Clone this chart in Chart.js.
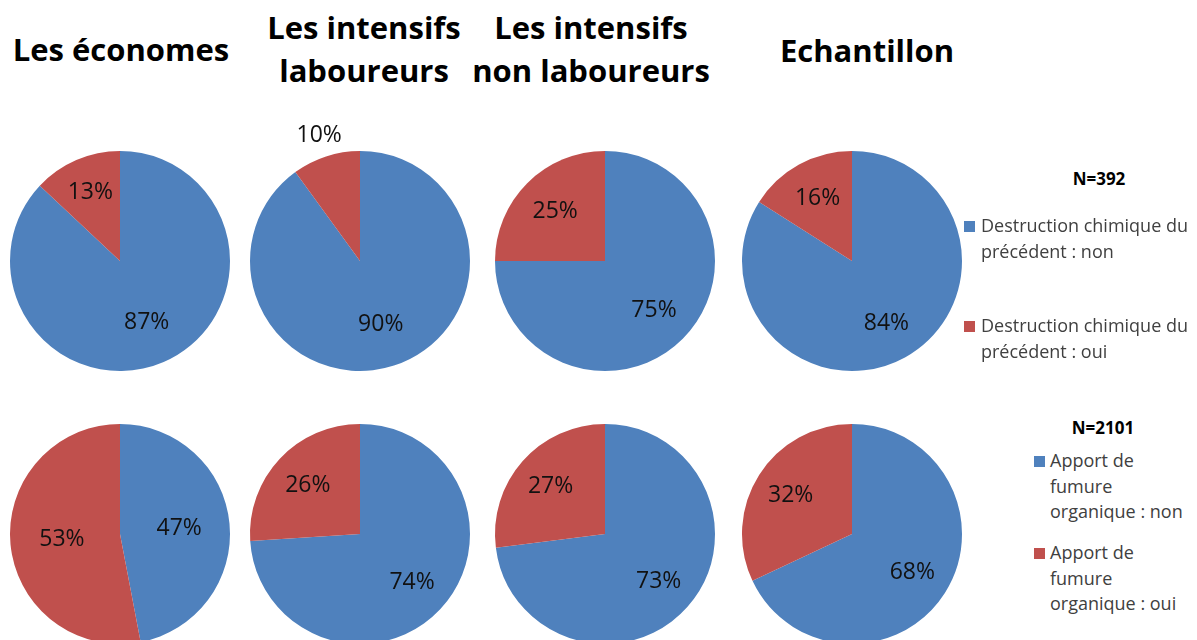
<!DOCTYPE html>
<html>
<head>
<meta charset="utf-8">
<script src="https://cdn.jsdelivr.net/npm/chart.js@4.4.1/dist/chart.umd.min.js"></script>
<style>
  html, body { margin: 0; padding: 0; width: 1197px; height: 640px; overflow: hidden; background: #fff; }
  .title { position: absolute; font-family: "Open Sans", sans-serif; font-weight: bold; font-size: 31px;
           line-height: 43px; color: #000; text-align: center; width: 300px; white-space: pre-line; }
  canvas { position: absolute; }
  .ntitle { position: absolute; font-family: "Open Sans", sans-serif; font-weight: bold; font-size: 17px;
            color: #000; width: 120px; text-align: center; line-height: 20px; }
  .leg { position: absolute; font-family: "Open Sans", sans-serif; font-size: 18px; line-height: 25.5px;
         color: #404040; white-space: pre-line; }
  .sq { position: absolute; width: 11px; height: 11px; }
</style>
</head>
<body>
<script>
// ---- Data ----
const groups = ["Les économes", "Les intensifs\nlaboureurs", "Les intensifs\nnon laboureurs", "Echantillon"];
const destructionLabels = ["Destruction chimique du\nprécédent : non", "Destruction chimique du\nprécédent : oui"];
const destructionNon = [87, 90, 75, 84];
const destructionOui = [13, 10, 25, 16];
const fumureLabels = ["Apport de\nfumure\norganique : non", "Apport de\nfumure\norganique : oui"];
const fumureNon = [47, 74, 73, 68];
const fumureOui = [53, 26, 27, 32];
const nDestruction = "N=392";
const nFumure = "N=2101";

// ---- Styles / layout ----
const colors = ["#4F81BD", "#C0504D"];
const pieCX = [120, 360, 605, 852];
const rowCY = [261, 534];
const R = 110;
const titleCX = [121, 364, 591, 867];
const titleTops = [28, 6, 6, 29];
// label distance from centre (fraction of radius) per pie / slice
const labelFrac = [
  [[0.61, 0.68], [0.61, 1.2], [0.63, 0.64], [0.65, 0.65]],
  [[0.54, 0.53], [0.65, 0.65], [0.65, 0.66], [0.65, 0.66]]
];

const pctLabels = {
  id: 'pctLabels',
  afterDatasetsDraw(chart, args, opts) {
    const ctx = chart.ctx;
    const meta = chart.getDatasetMeta(0);
    const data = chart.data.datasets[0].data;
    ctx.save();
    ctx.font = '23px "Open Sans", sans-serif';
    ctx.fillStyle = '#111';
    ctx.textAlign = 'center';
    ctx.textBaseline = 'middle';
    meta.data.forEach((arc, i) => {
      const p = arc.getProps(['x', 'y', 'startAngle', 'endAngle', 'outerRadius'], true);
      const mid = (p.startAngle + p.endAngle) / 2;
      const f = opts.fracs[i];
      ctx.fillText(data[i] + '%', p.x + Math.cos(mid) * p.outerRadius * f, p.y + Math.sin(mid) * p.outerRadius * f);
    });
    ctx.restore();
  }
};

function makePie(row, col, values, labels) {
  const cv = document.createElement('canvas');
  cv.width = 240; cv.height = 300;
  cv.style.left = (pieCX[col] - 120) + 'px';
  cv.style.top = (rowCY[row] - 150) + 'px';
  document.body.appendChild(cv);
  new Chart(cv, {
    type: 'pie',
    data: { labels: labels, datasets: [{ data: values, backgroundColor: colors, borderWidth: 0 }] },
    options: {
      responsive: false, animation: false, radius: R,
      layout: { padding: 0 },
      plugins: { legend: { display: false }, tooltip: { enabled: false }, pctLabels: { fracs: labelFrac[row][col] } }
    },
    plugins: [pctLabels]
  });
}

groups.forEach((g, i) => {
  const d = document.createElement('div');
  d.className = 'title';
  d.textContent = g;
  d.style.left = (titleCX[i] - 150) + 'px';
  d.style.top = titleTops[i] + 'px';
  document.body.appendChild(d);
  makePie(0, i, [destructionNon[i], destructionOui[i]], destructionLabels);
  makePie(1, i, [fumureNon[i], fumureOui[i]], fumureLabels);
});

function legend(nText, nCx, nTop, labels, sqX, textX, tops) {
  const n = document.createElement('div');
  n.className = 'ntitle'; n.textContent = nText;
  n.style.left = (nCx - 60) + 'px'; n.style.top = nTop + 'px';
  document.body.appendChild(n);
  labels.forEach((l, i) => {
    const s = document.createElement('div');
    s.className = 'sq'; s.style.background = colors[i];
    s.style.left = sqX + 'px'; s.style.top = (tops[i] + 8) + 'px';
    document.body.appendChild(s);
    const t = document.createElement('div');
    t.className = 'leg'; t.textContent = l;
    t.style.left = textX + 'px'; t.style.top = tops[i] + 'px';
    document.body.appendChild(t);
  });
}
legend(nDestruction, 1099, 169, destructionLabels, 964, 981, [213, 313]);
legend(nFumure, 1103, 418, fumureLabels, 1034, 1050, [448, 540]);
</script>
</body>
</html>
